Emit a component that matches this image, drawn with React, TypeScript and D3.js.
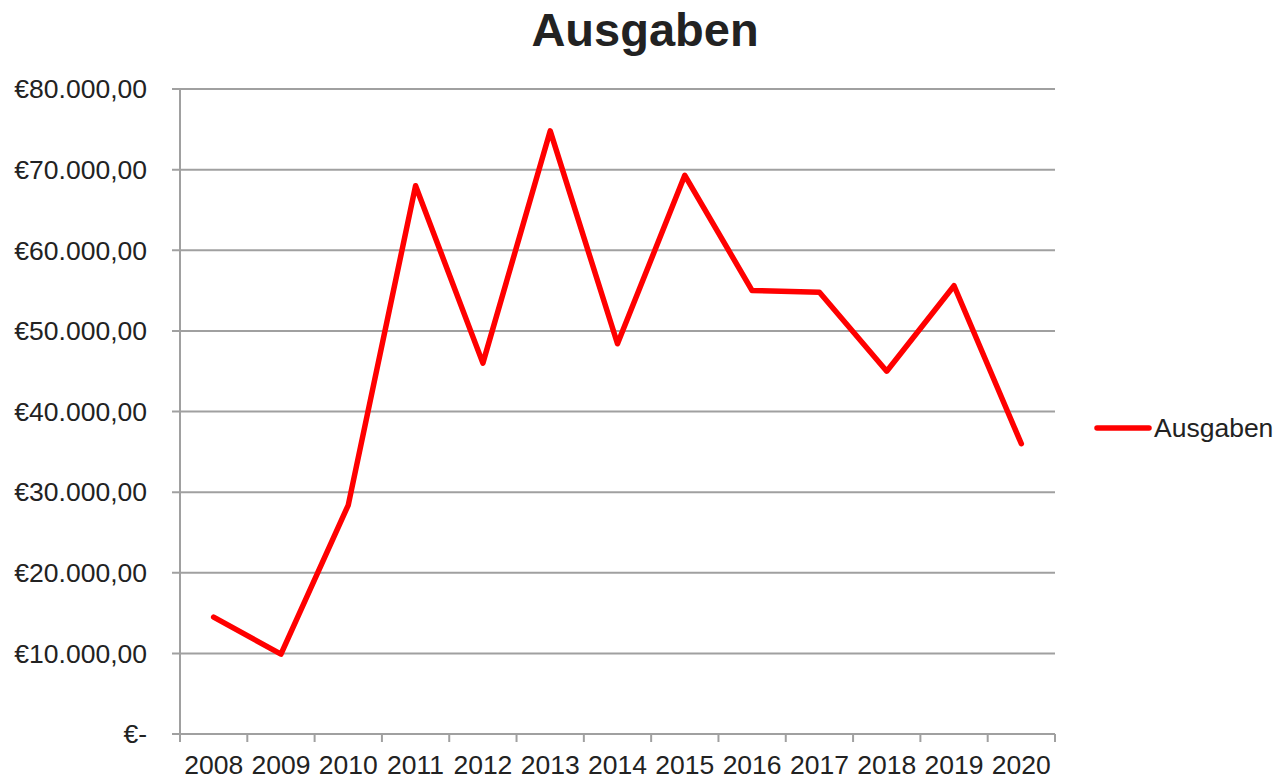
import React, { useRef, useEffect } from 'react';
import * as d3 from 'd3';

const years = ['2008', '2009', '2010', '2011', '2012', '2013', '2014', '2015', '2016', '2017', '2018', '2019', '2020'];
const ausgaben = [14500, 9900, 28400, 68000, 46000, 74800, 48400, 69300, 55000, 54800, 45000, 55600, 36000];
const yTicks = [0, 10000, 20000, 30000, 40000, 50000, 60000, 70000, 80000];

const fmtEuro = (v: number) => {
  if (v === 0) return '€-';
  const s = d3.format(',.2f')(v); // 80,000.00
  return '€' + s.replace(/,/g, '#').replace('.', ',').replace(/#/g, '.');
};

const App = () => {
  const svgRef = useRef<SVGSVGElement>(null);

  useEffect(() => {
    const svg = d3.select(svgRef.current);
    svg.selectAll('*').remove();

    const width = 1278;
    const height = 780;
    const margin = { top: 89, right: 223, bottom: 46, left: 180 };
    const font = '"Liberation Sans", Arial, sans-serif';
    const textColor = '#222';
    const labelSize = 26.5;

    const x = d3.scaleBand().domain(years).range([margin.left, width - margin.right]);
    const y = d3.scaleLinear().domain([0, 80000]).range([height - margin.bottom, margin.top]);

    // title
    svg.append('text')
      .attr('x', 645)
      .attr('y', 46)
      .attr('text-anchor', 'middle')
      .attr('font-family', font)
      .attr('font-weight', 'bold')
      .attr('font-size', 47)
      .attr('fill', textColor)
      .text('Ausgaben');

    // gridlines
    svg.append('g')
      .selectAll('line')
      .data(yTicks)
      .join('line')
      .attr('x1', margin.left - 8)
      .attr('x2', width - margin.right)
      .attr('y1', d => y(d))
      .attr('y2', d => y(d))
      .attr('stroke', '#a0a0a0')
      .attr('stroke-width', 2);

    // y labels
    svg.append('g')
      .selectAll('text')
      .data(yTicks)
      .join('text')
      .attr('x', 147)
      .attr('y', d => y(d))
      .attr('dy', '0.35em')
      .attr('text-anchor', 'end')
      .attr('font-family', font)
      .attr('font-size', labelSize)
      .attr('fill', textColor)
      .text(d => fmtEuro(d));

    // y axis line
    svg.append('line')
      .attr('x1', margin.left)
      .attr('x2', margin.left)
      .attr('y1', y(80000))
      .attr('y2', y(0) + 8)
      .attr('stroke', '#a0a0a0')
      .attr('stroke-width', 2);

    // x tick marks at category boundaries
    const bounds = years.map(yr => x(yr) as number).concat([width - margin.right]);
    svg.append('g')
      .selectAll('line')
      .data(bounds)
      .join('line')
      .attr('x1', d => d)
      .attr('x2', d => d)
      .attr('y1', y(0))
      .attr('y2', y(0) + 8)
      .attr('stroke', '#a0a0a0')
      .attr('stroke-width', 2);

    // x labels
    svg.append('g')
      .selectAll('text')
      .data(years)
      .join('text')
      .attr('x', d => (x(d) as number) + x.bandwidth() / 2)
      .attr('y', 774)
      .attr('text-anchor', 'middle')
      .attr('font-family', font)
      .attr('font-size', labelSize)
      .attr('fill', textColor)
      .text(d => d);

    // line
    const line = d3.line<number>()
      .x((_, i) => (x(years[i]) as number) + x.bandwidth() / 2)
      .y(d => y(d));

    svg.append('path')
      .datum(ausgaben)
      .attr('fill', 'none')
      .attr('stroke', '#ff0000')
      .attr('stroke-width', 5.5)
      .attr('stroke-linejoin', 'round')
      .attr('stroke-linecap', 'round')
      .attr('d', line);

    // legend
    svg.append('line')
      .attr('x1', 1097)
      .attr('x2', 1149)
      .attr('y1', 428)
      .attr('y2', 428)
      .attr('stroke', '#ff0000')
      .attr('stroke-width', 5.5)
      .attr('stroke-linecap', 'round');
    svg.append('text')
      .attr('x', 1154)
      .attr('y', 428)
      .attr('dy', '0.35em')
      .attr('font-family', font)
      .attr('font-size', labelSize)
      .attr('fill', textColor)
      .text('Ausgaben');
  }, []);

  return (
    <svg
      ref={svgRef}
      width={1278}
      height={780}
      style={{ position: 'absolute', left: 0, top: 0, background: '#fff' }}
    />
  );
};

export default App;
